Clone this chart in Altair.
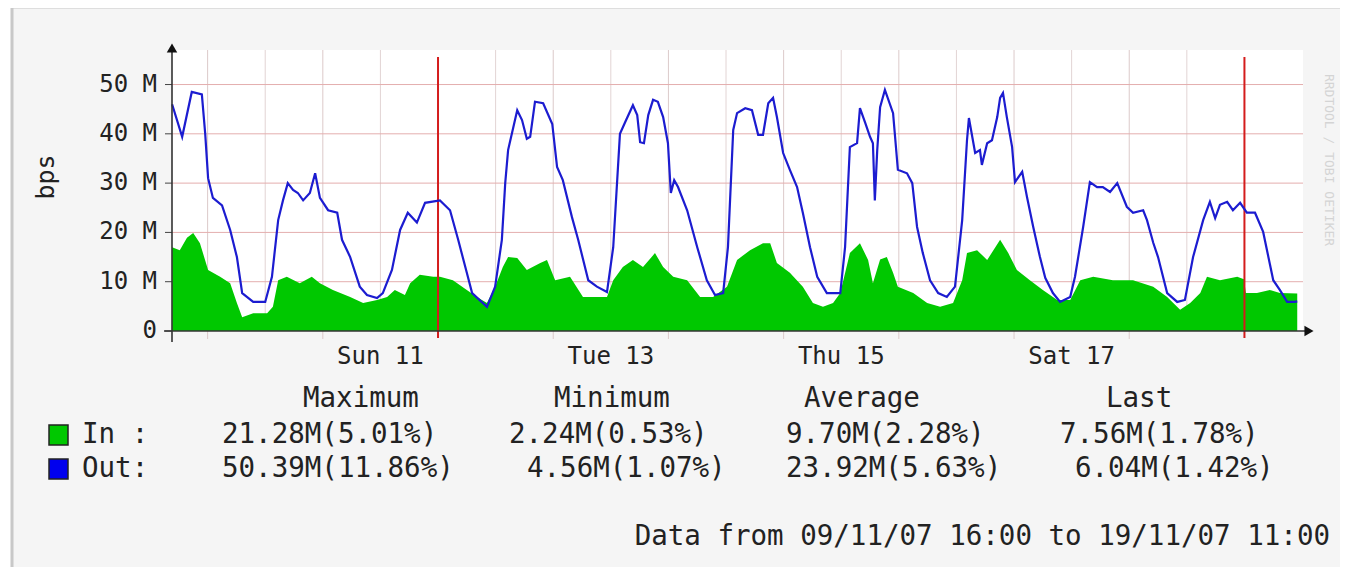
import altair as alt
import pandas as pd

# ---------------- data (time = hours relative to Mon 12 Nov 2007 00:00) ----------------
out_hours = [
    -55.4, -53.3, -51.3, -49.2, -48.5, -47.9, -46.9, -45.0, -43.3, -41.9,
    -40.8, -38.5, -36.0, -34.6, -33.3, -32.3, -31.3, -30.2, -29.2, -28.1,
    -26.7, -25.6, -24.6, -22.9, -21.0, -20.0, -18.3, -16.3, -14.8, -12.7,
    -11.5, -9.6, -7.9, -6.3, -4.4, -2.7,
    0.4, 2.5, 4.2, 6.0, 7.1, 10.2, 11.9, 13.3, 14.0, 14.6,
    16.5, 17.5, 18.5, 19.2, 20.2, 21.9, 23.8, 24.8, 26.0, 27.9,
    29.2, 31.3, 33.1, 35.2, 36.5, 37.9, 39.0, 40.6, 41.5, 42.1,
    42.9, 43.8, 44.8, 45.8, 46.9, 47.9, 48.5, 49.2, 50.0,
    51.9, 54.0, 56.0, 57.7, 59.4, 60.4, 61.5, 62.3, 64.0, 65.4,
    66.7, 67.7, 68.8, 69.8, 70.6, 71.9, 73.3, 74.8, 76.0, 77.5,
    79.0, 81.0, 83.8, 84.8, 85.8, 87.3, 87.9, 89.0, 90.0, 90.6,
    91.0, 91.5, 92.1, 93.1,
    94.8, 95.8, 97.7, 98.8, 99.8, 101.0, 102.5, 104.2, 106.0, 107.7,
    109.2, 110.2, 110.6, 111.9, 112.9, 113.3, 114.4, 115.4, 116.5, 117.1,
    117.7, 118.5, 119.6, 120.2, 121.7, 122.7, 124.0, 125.4, 126.5, 128.1,
    129.6, 131.7, 132.7, 134.4, 135.8, 137.3, 138.5, 140.0, 141.5, 143.5,
    144.8, 146.9, 147.7, 149.0, 150.0, 151.9, 154.0, 155.6, 157.3, 159.4,
    160.8, 161.9, 162.9, 164.4, 165.6, 167.1, 168.5, 170.2, 171.9, 174.0,
    175.4, 176.9, 178.5, 179.0,
]
out_mbps = [
    46.0, 39.4, 48.5, 48.0, 40.0, 31.0, 27.0, 25.5, 20.5, 15.0,
    7.7, 5.9, 5.9, 11.0, 22.5, 26.5, 30.0, 28.6, 28.0, 26.5,
    28.0, 32.0, 27.0, 24.5, 24.0, 18.5, 15.0, 9.0, 7.3, 6.7,
    7.7, 12.4, 20.5, 24.0, 22.0, 26.0,
    26.5, 24.5, 18.5, 11.8, 7.7, 4.9, 9.0, 18.5, 30.0, 36.7,
    44.8, 42.8, 39.0, 39.4, 46.5, 46.2, 42.0, 33.3, 30.6, 23.1,
    18.5, 10.3, 9.0, 7.9, 17.0, 40.0, 42.4, 45.8, 43.8, 38.3,
    38.1, 43.8, 46.9, 46.5, 43.4, 38.1, 28.0, 30.6, 29.2,
    24.5, 17.0, 10.3, 7.3, 7.7, 17.0, 40.8, 44.2, 45.2, 44.8,
    39.8, 39.8, 46.2, 47.3, 43.4, 36.1, 32.7, 29.2, 24.0, 17.0,
    11.0, 7.7, 7.7, 17.0, 37.3, 38.1, 45.2, 42.2, 39.4, 38.1,
    26.5, 36.7, 45.4, 48.9,
    44.2, 32.7, 32.0, 30.0, 21.1, 15.8, 10.3, 7.7, 6.9, 9.0,
    22.5, 38.7, 43.2, 36.1, 36.7, 33.7, 38.1, 38.7, 43.4, 47.3,
    48.3, 43.4, 37.3, 30.2, 32.3, 27.2, 21.1, 15.0, 10.8, 7.7,
    5.9, 6.9, 11.0, 21.1, 30.2, 29.2, 29.2, 28.2, 30.0, 25.2,
    24.0, 24.5, 22.5, 17.9, 15.0, 7.7, 5.9, 6.3, 15.0, 22.5,
    26.2, 22.9, 25.6, 26.2, 24.5, 26.0, 24.0, 24.0, 20.1, 10.3,
    8.3, 5.9, 5.9, 6.0,
]

in_hours = [
    -55.4, -53.8, -52.3, -51.0, -49.6, -47.9, -45.4, -43.3, -41.9, -40.8,
    -38.5, -35.6, -34.4, -33.3, -31.5, -28.8, -26.3, -24.6, -21.9, -18.3,
    -15.6, -12.7, -10.6, -9.0, -6.9, -5.8, -3.8, -1.0,
    0.4, 3.1, 6.0, 8.1, 10.2, 11.9, 13.5, 14.6, 16.5, 18.5,
    21.3, 22.7, 24.4, 27.5, 30.2, 33.1, 35.2, 36.5, 38.5, 40.6,
    42.7, 45.2, 46.9, 49.0, 51.9, 54.6, 57.3, 60.2, 62.3, 65.0,
    67.7, 69.2, 70.6, 73.3, 76.0, 78.1, 80.2, 82.3, 83.8, 85.8,
    87.9, 89.6, 90.6, 92.1, 93.5, 94.8, 95.8,
    99.0, 101.9, 104.6, 107.3, 109.2, 110.2, 112.3, 114.4, 117.1, 118.8,
    120.6, 123.3, 126.0, 129.0, 131.7, 133.8, 136.5, 140.6, 144.8, 149.0,
    151.9, 154.6, 156.7, 158.8, 160.2, 162.9, 166.5, 167.9, 168.3, 170.6,
    173.3, 175.4, 179.0,
]
in_mbps = [
    17.0, 16.4, 18.9, 19.9, 17.8, 12.4, 11.0, 9.7, 5.7, 2.8,
    3.6, 3.6, 4.9, 10.3, 11.0, 9.7, 11.0, 9.7, 8.3, 6.9,
    5.7, 6.3, 6.9, 8.3, 7.3, 9.7, 11.4, 11.0,
    11.0, 10.3, 8.3, 6.9, 5.7, 9.0, 13.0, 15.0, 14.8, 12.4,
    13.8, 14.4, 10.3, 11.0, 6.9, 6.9, 6.9, 10.3, 13.0, 14.4,
    13.0, 15.8, 13.0, 11.0, 10.3, 6.9, 6.9, 9.0, 14.4, 16.4,
    17.8, 17.8, 13.8, 11.8, 9.0, 5.7, 4.9, 5.7, 7.7, 15.8,
    17.8, 14.4, 9.7, 14.5, 15.0, 11.8, 9.0,
    7.7, 5.7, 4.9, 5.7, 10.3, 15.8, 16.4, 14.4, 18.5, 15.8,
    12.4, 10.3, 8.3, 6.3, 6.3, 10.3, 11.0, 10.3, 10.3, 9.0,
    6.9, 4.3, 5.7, 7.7, 11.0, 10.3, 11.0, 10.5, 7.7, 7.7,
    8.3, 7.7, 7.6,
]

y_ticks = [0, 10, 20, 30, 40, 50]
y_tick_labels = ["0", "10 M", "20 M", "30 M", "40 M", "50 M"]
x_label_hours = [-12, 36, 84, 132]
x_labels = ["Sun 11", "Tue 13", "Thu 15", "Sat 17"]
noon_hours = [-36, -12, 12, 36, 60, 84, 108, 132, 156]
midnight_hours = [-48, -24, 24, 48, 72, 96, 120, 144]
week_hours = [0, 168]

stat_headers = ["Maximum", "Minimum", "Average", "Last"]
series_names = ["In :", "Out:"]
in_stats = ["21.28M(5.01%)", "2.24M(0.53%)", "9.70M(2.28%)", "7.56M(1.78%)"]
out_stats = ["50.39M(11.86%)", "4.56M(1.07%)", "23.92M(5.63%)", "6.04M(1.42%)"]
footer = "Data from 09/11/07 16:00 to 19/11/07 11:00"
y_title = "bps"
watermark = "RRDTOOL / TOBI OETIKER"

# ---------------- layout / style ----------------
W, H = 1131, 279          # plot area
OX, OY = 172, 52          # page position of plot origin
FONT = "DejaVu Sans Mono"
GREEN = "#00c800"
BLUE = "#1c1cd0"
LEGEND_BLUE = "#0000ee"
RED = "#d41c1c"
INK = "#222222"

def px(x):
    return x - OX

def py(y):
    return y - OY

xs = alt.Scale(domain=[-55.42, 180.2], nice=False, zero=False)
ys = alt.Scale(domain=[0, 56.6], nice=False, zero=False)

def X(f="h"):
    return alt.X(f"{f}:Q", scale=xs, axis=None)

def Y(f="v"):
    return alt.Y(f"{f}:Q", scale=ys, axis=None)

one = pd.DataFrame({"k": [0]})

def txt(s, x, y, size, align="left", angle=0, color=INK):
    return alt.Chart(one).mark_text(
        text=s, font=FONT, fontSize=size, align=align, baseline="middle",
        angle=angle, color=color
    ).encode(x=alt.value(px(x)), y=alt.value(py(y)))

layers = []
# frame + white canvas
layers.append(alt.Chart(one).mark_rect(fill="#f5f5f5", stroke="#c8c8c8", strokeWidth=3).encode(
    x=alt.value(px(12)), x2=alt.value(px(1380)), y=alt.value(py(7)), y2=alt.value(py(600))))
layers.append(alt.Chart(one).mark_rect(fill="white").encode(
    x=alt.value(0), x2=alt.value(W), y=alt.value(py(50)), y2=alt.value(H)))

# grid
noon_df = pd.DataFrame({"h": noon_hours})
mid_df = pd.DataFrame({"h": midnight_hours})
layers.append(alt.Chart(noon_df).mark_rule(color="#e2d4d4", strokeWidth=1).encode(
    x=X(), y=alt.value(py(50)), y2=alt.value(H)))
layers.append(alt.Chart(mid_df).mark_rule(color="#dccaca", strokeWidth=1).encode(
    x=X(), y=alt.value(py(50)), y2=alt.value(H + 8)))
hgrid_df = pd.DataFrame({"v": y_ticks[1:]})
layers.append(alt.Chart(hgrid_df).mark_rule(color="#e4aeae", strokeWidth=1).encode(
    y=Y(), x=alt.value(0), x2=alt.value(W)))

# data
in_df = pd.DataFrame({"h": in_hours, "v": in_mbps})
out_df = pd.DataFrame({"h": out_hours, "v": out_mbps})
layers.append(alt.Chart(in_df).mark_area(color=GREEN, opacity=1).encode(x=X(), y=Y()))
week_df = pd.DataFrame({"h": week_hours})
layers.append(alt.Chart(week_df).mark_rule(color=RED, strokeWidth=2).encode(
    x=X(), y=alt.value(py(57)), y2=alt.value(py(338))))
layers.append(alt.Chart(out_df).mark_line(color=BLUE, strokeWidth=2.2).encode(x=X(), y=Y()))

# axes
ytick_df = pd.DataFrame({"v": y_ticks, "lab": y_tick_labels})
layers.append(alt.Chart(ytick_df).mark_rule(color="#444", strokeWidth=1).encode(
    y=Y(), x=alt.value(-7), x2=alt.value(0)))
layers.append(alt.Chart(one).mark_rule(color="#333", strokeWidth=1.6).encode(
    x=alt.value(-8), x2=alt.value(px(1306)), y=alt.value(H)))
layers.append(alt.Chart(one).mark_rule(color="#333", strokeWidth=1.6).encode(
    x=alt.value(0), y=alt.value(py(342)), y2=alt.value(py(50))))
layers.append(alt.Chart(one).mark_point(shape="triangle-right", filled=True, size=110,
                                        color="#111", opacity=1).encode(
    x=alt.value(px(1309)), y=alt.value(H)))
layers.append(alt.Chart(one).mark_point(shape="triangle-up", filled=True, size=110,
                                        color="#111", opacity=1).encode(
    x=alt.value(0), y=alt.value(py(48))))

layers.append(alt.Chart(ytick_df).mark_text(font=FONT, fontSize=24, align="right",
                                            baseline="middle", color=INK).encode(
    x=alt.value(px(157)), y=Y(), text="lab:N"))
xlab_df = pd.DataFrame({"h": x_label_hours, "lab": x_labels})
layers.append(alt.Chart(xlab_df).mark_text(font=FONT, fontSize=24, align="center",
                                           baseline="middle", color=INK).encode(
    x=X(), y=alt.value(py(357)), text="lab:N"))
layers.append(txt(y_title, 46, 177, 25, align="center", angle=270))
layers.append(txt(watermark, 1329, 160, 13, align="center", angle=90, color="#d4d4d4"))

# legend / statistics
LF = 27.5
header_x = [303, 554, 804, 1106]
in_x = [222, 509, 786, 1060]
out_x = [222, 527, 786, 1075]
row_y = [399, 435, 469]
for s, x in zip(stat_headers, header_x):
    layers.append(txt(s, x, row_y[0], LF))
for s, x in zip(in_stats, in_x):
    layers.append(txt(s, x, row_y[1], LF))
for s, x in zip(out_stats, out_x):
    layers.append(txt(s, x, row_y[2], LF))
layers.append(txt(series_names[0], 82, row_y[1], LF))
layers.append(txt(series_names[1], 82, row_y[2], LF))
for color, yc in [(GREEN, row_y[1]), (LEGEND_BLUE, row_y[2])]:
    layers.append(alt.Chart(one).mark_rect(fill=color, stroke="#222", strokeWidth=1.5).encode(
        x=alt.value(px(49)), x2=alt.value(px(68)), y=alt.value(py(yc - 10)), y2=alt.value(py(yc + 10))))
layers.append(txt(footer, 1330, 537, LF, align="right"))

chart = alt.layer(*layers).properties(
    width=W, height=H,
    padding={"left": OX - 8, "top": OY - 8, "right": 37, "bottom": 236},
    autosize=alt.AutoSizeParams(type="none"),
    background="white",
).configure_view(stroke=None)

chart.save("out.html", embed_options={"renderer": "svg", "actions": False})
